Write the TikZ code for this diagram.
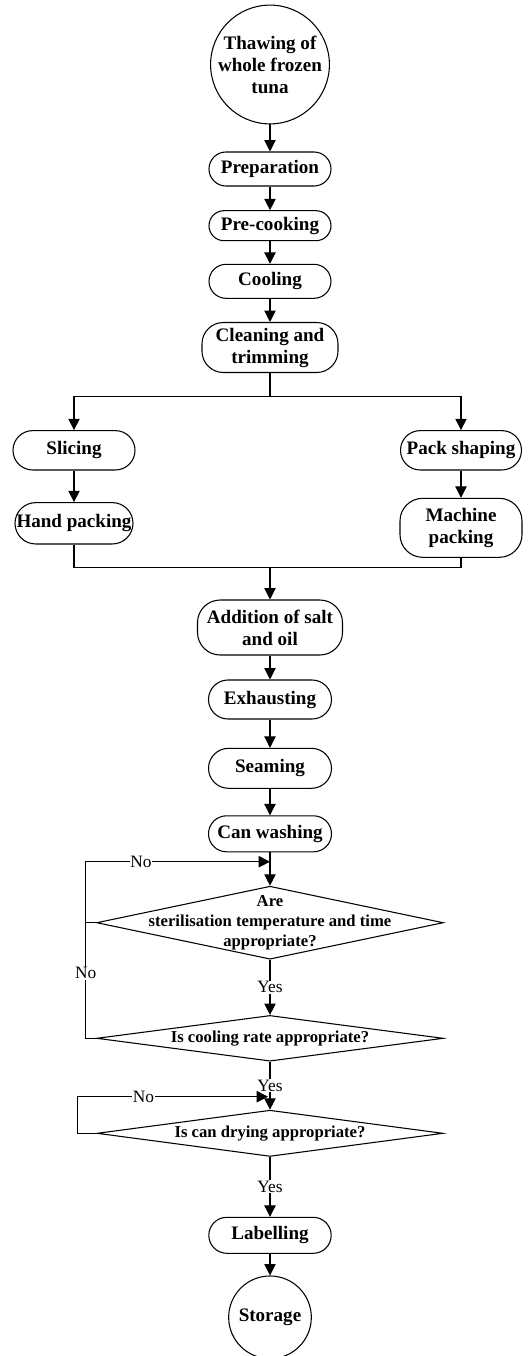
\documentclass[tikz,border=0pt]{standalone}
\usepackage{fontspec}
\setmainfont{Liberation Serif}
\usetikzlibrary{arrows.meta,shapes.geometric}
\begin{document}
\begin{tikzpicture}[x=0.75pt,y=-0.75pt,line width=0.8pt,
  box/.style={draw,rectangle,rounded corners=#1,align=center,inner sep=0pt,
    font=\fontsize{14.3}{16.5}\selectfont\bfseries},
  box/.default=12pt,
  circ/.style={draw,circle,align=center,inner sep=0pt,
    font=\fontsize{14.3}{16.5}\selectfont\bfseries},
  dia/.style={draw,diamond,inner sep=0pt},
  dtext/.style={align=center,inner sep=0pt,font=\fontsize{12.5}{15}\selectfont\bfseries},
  lbl/.style={fill=white,inner sep=0.6pt,font=\fontsize{13}{15}\selectfont},
  arr/.style={-{Triangle[length=8.5pt,width=8.5pt]}}]
\useasboundingbox (0,0) rectangle (528,1356);

% nodes
\node[circ,minimum size=87pt] (thaw) at (270,64.5) {Thawing of\\whole frozen\\tuna};
\node[box=12.75pt,minimum width=91.5pt,minimum height=25.5pt] (prep) at (270,169) {Preparation};
\node[box=11.25pt,minimum width=91.5pt,minimum height=22.5pt] (precook) at (270,225.7) {Pre-cooking};
\node[box=12.75pt,minimum width=91.5pt,minimum height=25.5pt] (cool) at (270,281.3) {Cooling};
\node[box=16pt,minimum width=102pt,minimum height=37.5pt] (clean) at (270,347.5) {Cleaning and\\trimming};
\node[box=14.7pt,minimum width=91.5pt,minimum height=29.5pt] (slice) at (74,450.3) {Slicing};
\node[box=14.7pt,minimum width=90.75pt,minimum height=29.5pt] (pack) at (461,450.3) {Pack shaping};
\node[box=15.5pt,minimum width=88.5pt,minimum height=31pt] (hand) at (74,523.3) {Hand packing};
\node[box=17pt,minimum width=91.5pt,minimum height=44.25pt] (machine) at (461,527.8) {Machine\\packing};
\node[box=17pt,minimum width=108.75pt,minimum height=41.25pt] (add) at (270,627.5) {Addition of salt\\and oil};
\node[box=14.6pt,minimum width=92.25pt,minimum height=29.25pt] (exh) at (270,699.5) {Exhausting};
\node[box=15pt,minimum width=92.25pt,minimum height=30pt] (seam) at (270,768.3) {Seaming};
\node[box=13.5pt,minimum width=92.25pt,minimum height=27pt] (wash) at (270,833.8) {Can washing};
\node[dia,minimum width=260pt,minimum height=54.75pt] (d1) at (270,922.7) {};
\node[dtext] (d1t) at (d1) {Are\\sterilisation temperature and time\\appropriate?};
\node[dia,minimum width=260pt,minimum height=34.3pt] (d2) at (270,1038.3) {};
\node[dtext] (d2t) at (d2) {Is cooling rate appropriate?};
\node[dia,minimum width=259.5pt,minimum height=34.7pt] (d3) at (270,1133.3) {};
\node[dtext] (d3t) at (d3) {Is can drying appropriate?};
\node[box=13.5pt,minimum width=91.8pt,minimum height=27pt] (label) at (270,1235.3) {Labelling};
\node[circ,minimum size=62pt] (store) at (270,1317.3) {Storage};

% coordinates
\coordinate (split) at (270,396.7);
\coordinate (merge) at (270,567.3);
\coordinate (lx1) at (85.7,861.7);
\coordinate (lt1) at (270,861.7);
\coordinate (lx3) at (77.7,1096.7);
\coordinate (lt3) at (268,1096.7);

% connectors
\draw[arr] (thaw.south) -- (prep.north);
\draw[arr] (prep.south) -- (precook.north);
\draw[arr] (precook.south) -- (cool.north);
\draw[arr] (cool.south) -- (clean.north);
\draw (clean.south) -- (split);
\draw[arr] (split) -| (slice.north);
\draw[arr] (split) -| (pack.north);
\draw[arr] (slice.south) -- (hand.north);
\draw[arr] (pack.south) -- (machine.north);
\draw (hand.south) |- (merge);
\draw (machine.south) |- (merge);
\draw[arr] (merge) -- (add.north);
\draw[arr] (add.south) -- (exh.north);
\draw[arr] (exh.south) -- (seam.north);
\draw[arr] (seam.south) -- (wash.north);
\draw[arr] (wash.south) -- (d1.north);
\draw[arr] (d1.south) -- node[lbl,pos=0.5] (y1) {Yes} (d2.north);
\draw[arr] (d2.south) -- node[lbl,pos=0.5] (y2) {Yes} (d3.north);
\draw[arr] (d3.south) -- node[lbl,pos=0.5] (y3) {Yes} (label.north);
\draw[arr] (label.south) -- (store.north);

% No loops
\draw (d1.west) -- (d1.west -| lx1);
\draw[arr] (d2.west) -| (lx1) -- node[lbl,pos=0.3] (n1) {No} (lt1);
\node[lbl] (n2) at (85.7,973.3) {No};
\draw[arr] (d3.west) -| (lx3) -- node[lbl,pos=0.345] (n3) {No} (lt3);
\end{tikzpicture}
\end{document}
